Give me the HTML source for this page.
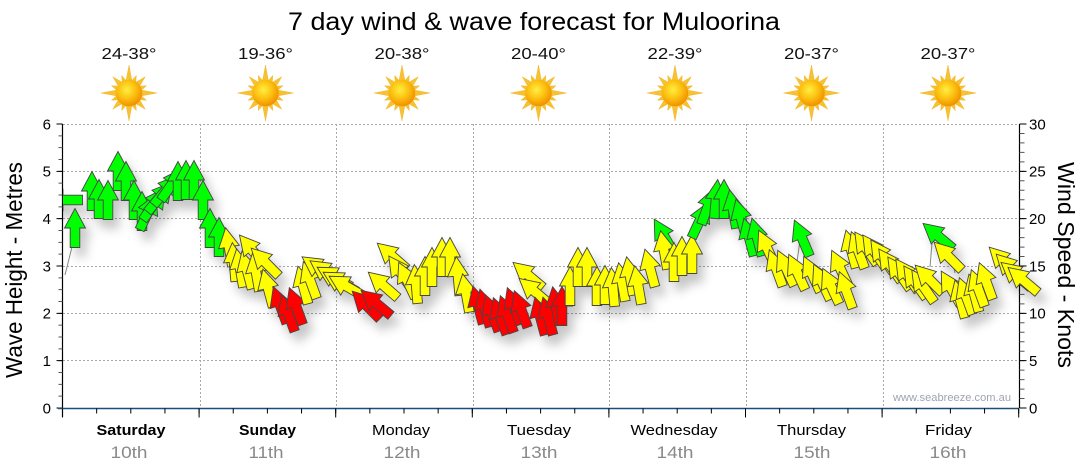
<!DOCTYPE html>
<html><head><meta charset="utf-8"><style>
html,body{margin:0;padding:0;background:#fff;width:1080px;height:475px;overflow:hidden}
svg{display:block}
text{font-family:"Liberation Sans","DejaVu Sans",sans-serif}
.g{fill:#00ff00}.y{fill:#ffff00}.r{fill:#ff0000}
</style></head><body>
<svg width="1080" height="475" viewBox="0 0 1080 475" xmlns="http://www.w3.org/2000/svg" xmlns:xlink="http://www.w3.org/1999/xlink">
<defs>
<path id="a" d="M0,-19.5 L10.5,0 L4.8,0 L4.8,19.5 L-4.8,19.5 L-4.8,0 L-10.5,0 Z" stroke="#454545" stroke-width="0.9" stroke-linejoin="miter"/>
<radialGradient id="sb" cx="0.42" cy="0.38" r="0.62">
<stop offset="0" stop-color="#ffee40"/><stop offset="0.55" stop-color="#fcc010"/><stop offset="1" stop-color="#f09200"/>
</radialGradient>
<g id="sun">
<g fill="#f6c232" stroke="#f0b020" stroke-width="0.4">
<polygon points="0,-28 3.4,-10 -3.4,-10"/>
<polygon points="0,-19 3,-10 -3,-10" transform="rotate(22.5)"/>
<polygon points="0,-23 3.4,-10 -3.4,-10" transform="rotate(45)"/>
<polygon points="0,-19 3,-10 -3,-10" transform="rotate(67.5)"/>
<polygon points="0,-28 3.4,-10 -3.4,-10" transform="rotate(90)"/>
<polygon points="0,-19 3,-10 -3,-10" transform="rotate(112.5)"/>
<polygon points="0,-23 3.4,-10 -3.4,-10" transform="rotate(135)"/>
<polygon points="0,-19 3,-10 -3,-10" transform="rotate(157.5)"/>
<polygon points="0,-28 3.4,-10 -3.4,-10" transform="rotate(180)"/>
<polygon points="0,-19 3,-10 -3,-10" transform="rotate(202.5)"/>
<polygon points="0,-23 3.4,-10 -3.4,-10" transform="rotate(225)"/>
<polygon points="0,-19 3,-10 -3,-10" transform="rotate(247.5)"/>
<polygon points="0,-28 3.4,-10 -3.4,-10" transform="rotate(270)"/>
<polygon points="0,-19 3,-10 -3,-10" transform="rotate(292.5)"/>
<polygon points="0,-23 3.4,-10 -3.4,-10" transform="rotate(315)"/>
<polygon points="0,-19 3,-10 -3,-10" transform="rotate(337.5)"/>
</g>
<circle r="13.2" fill="url(#sb)"/>
</g>
<filter id="sh" x="-10%" y="-20%" width="130%" height="150%">
<feDropShadow dx="6" dy="9" stdDeviation="5" flood-color="#000" flood-opacity="0.22"/>
</filter>
<clipPath id="pc"><rect x="63" y="100" width="1017" height="320"/></clipPath>
</defs>

<text x="534" y="30" font-size="25" text-anchor="middle" textLength="492" lengthAdjust="spacingAndGlyphs" fill="#000">7 day wind &amp; wave forecast for Muloorina</text>

<g font-size="16" text-anchor="middle" fill="#111">
<text x="129" y="59" textLength="55" lengthAdjust="spacingAndGlyphs">24-38°</text>
<text x="265.5" y="59" textLength="55" lengthAdjust="spacingAndGlyphs">19-36°</text>
<text x="402" y="59" textLength="55" lengthAdjust="spacingAndGlyphs">20-38°</text>
<text x="538.5" y="59" textLength="55" lengthAdjust="spacingAndGlyphs">20-40°</text>
<text x="675" y="59" textLength="55" lengthAdjust="spacingAndGlyphs">22-39°</text>
<text x="811.5" y="59" textLength="55" lengthAdjust="spacingAndGlyphs">20-37°</text>
<text x="948" y="59" textLength="55" lengthAdjust="spacingAndGlyphs">20-37°</text>
</g>
<use href="#sun" xlink:href="#sun" transform="translate(129,93)"/>
<use href="#sun" xlink:href="#sun" transform="translate(265.5,93)"/>
<use href="#sun" xlink:href="#sun" transform="translate(402,93)"/>
<use href="#sun" xlink:href="#sun" transform="translate(538.5,93)"/>
<use href="#sun" xlink:href="#sun" transform="translate(675,93)"/>
<use href="#sun" xlink:href="#sun" transform="translate(811.5,93)"/>
<use href="#sun" xlink:href="#sun" transform="translate(948,93)"/>

<g stroke="#a8a8a8" stroke-width="1" stroke-dasharray="2,2" fill="none">
<line x1="63" y1="124.5" x2="1019" y2="124.5"/>
<line x1="63" y1="171.5" x2="1019" y2="171.5"/>
<line x1="63" y1="218.5" x2="1019" y2="218.5"/>
<line x1="63" y1="266.5" x2="1019" y2="266.5"/>
<line x1="63" y1="313.5" x2="1019" y2="313.5"/>
<line x1="63" y1="360.5" x2="1019" y2="360.5"/>
<line x1="200.5" y1="124" x2="200.5" y2="408"/>
<line x1="336.5" y1="124" x2="336.5" y2="408"/>
<line x1="473.5" y1="124" x2="473.5" y2="408"/>
<line x1="609.5" y1="124" x2="609.5" y2="408"/>
<line x1="746.5" y1="124" x2="746.5" y2="408"/>
<line x1="883.5" y1="124" x2="883.5" y2="408"/>
</g>

<text x="893" y="401" font-size="11" fill="#a0a4b0" textLength="118" lengthAdjust="spacingAndGlyphs">www.seabreeze.com.au</text>

<g fill="none">
<line x1="62.5" y1="124" x2="62.5" y2="417" stroke="#000" stroke-width="1.2"/>
<line x1="1019.5" y1="124" x2="1019.5" y2="408" stroke="#000" stroke-width="1.2"/>
<line x1="60.5" y1="408.5" x2="60.5" y2="123" stroke="#555" stroke-width="4" stroke-dasharray="1 10.833"/>
<line x1="59.5" y1="408.5" x2="59.5" y2="123" stroke="#000" stroke-width="6" stroke-dasharray="1 46.333"/>
<line x1="1022" y1="408.5" x2="1022" y2="123" stroke="#555" stroke-width="5" stroke-dasharray="1 8.4667"/>
<line x1="1023" y1="408.5" x2="1023" y2="123" stroke="#000" stroke-width="7" stroke-dasharray="1 46.333"/>
<line x1="58" y1="408.5" x2="1019" y2="408.5" stroke="#1a4f78" stroke-width="1.5"/>
<line x1="62" y1="411" x2="1020" y2="411" stroke="#000" stroke-width="5" stroke-dasharray="1 33.15"/>
<line x1="62" y1="413" x2="1020" y2="413" stroke="#000" stroke-width="9" stroke-dasharray="1 135.6"/>
</g>

<g font-size="15" text-anchor="end" fill="#000">
<text x="51" y="129.5">6</text>
<text x="51" y="176.5">5</text>
<text x="51" y="224">4</text>
<text x="51" y="271.5">3</text>
<text x="51" y="318.5">2</text>
<text x="51" y="366">1</text>
<text x="51" y="413.5">0</text>
</g>
<g font-size="15" fill="#000">
<text x="1029" y="129.5">30</text>
<text x="1029" y="176.5">25</text>
<text x="1029" y="224">20</text>
<text x="1029" y="271.5">15</text>
<text x="1029" y="318.5">10</text>
<text x="1029" y="366">5</text>
<text x="1029" y="413.5">0</text>
</g>
<text transform="translate(22,270) rotate(-90)" font-size="23" text-anchor="middle" textLength="216" lengthAdjust="spacingAndGlyphs" fill="#000">Wave Height - Metres</text>
<text transform="translate(1058,265) rotate(90)" font-size="23" text-anchor="middle" textLength="206" lengthAdjust="spacingAndGlyphs" fill="#000">Wind Speed - Knots</text>

<g font-size="15" text-anchor="middle" fill="#000">
<text x="131" y="435" font-weight="bold" textLength="69" lengthAdjust="spacingAndGlyphs">Saturday</text>
<text x="267.5" y="435" font-weight="bold" textLength="57" lengthAdjust="spacingAndGlyphs">Sunday</text>
<text x="401" y="435" textLength="58" lengthAdjust="spacingAndGlyphs">Monday</text>
<text x="539" y="435" textLength="64" lengthAdjust="spacingAndGlyphs">Tuesday</text>
<text x="674" y="435" textLength="87" lengthAdjust="spacingAndGlyphs">Wednesday</text>
<text x="811.5" y="435" textLength="69" lengthAdjust="spacingAndGlyphs">Thursday</text>
<text x="948.5" y="435" textLength="47" lengthAdjust="spacingAndGlyphs">Friday</text>
</g>
<g font-size="17" text-anchor="middle" fill="#8a8a8a">
<text x="129" y="458" textLength="37" lengthAdjust="spacingAndGlyphs">10th</text>
<text x="266" y="458" textLength="35" lengthAdjust="spacingAndGlyphs">11th</text>
<text x="402" y="458" textLength="37" lengthAdjust="spacingAndGlyphs">12th</text>
<text x="539" y="458" textLength="37" lengthAdjust="spacingAndGlyphs">13th</text>
<text x="675" y="458" textLength="37" lengthAdjust="spacingAndGlyphs">14th</text>
<text x="812" y="458" textLength="37" lengthAdjust="spacingAndGlyphs">15th</text>
<text x="948" y="458" textLength="37" lengthAdjust="spacingAndGlyphs">16th</text>
</g>

<g stroke="#888" stroke-width="1" fill="none">
<polyline points="65,275 72,247"/>
<polyline points="932,243 930,267"/>
<polyline points="950,248 955,273"/>
<polyline points="658,245 661,258"/>
<polyline points="800,240 797,262"/>
</g>

<g clip-path="url(#pc)" filter="url(#sh)">
<use href="#a" xlink:href="#a" class="g" transform="translate(63,200) rotate(-90)"/>
<use href="#a" xlink:href="#a" class="g" transform="translate(75,228) rotate(0)"/>
<use href="#a" xlink:href="#a" class="g" transform="translate(92,191) rotate(0)"/>
<use href="#a" xlink:href="#a" class="g" transform="translate(99,199) rotate(0)"/>
<use href="#a" xlink:href="#a" class="g" transform="translate(108,200) rotate(0)"/>
<use href="#a" xlink:href="#a" class="g" transform="translate(118,171) rotate(0)"/>
<use href="#a" xlink:href="#a" class="g" transform="translate(126,181) rotate(0)"/>
<use href="#a" xlink:href="#a" class="g" transform="translate(134,200) rotate(0)"/>
<use href="#a" xlink:href="#a" class="g" transform="translate(142,211) rotate(0)"/>
<use href="#a" xlink:href="#a" class="g" transform="translate(148,212) rotate(25)"/>
<use href="#a" xlink:href="#a" class="g" transform="translate(154,204) rotate(35)"/>
<use href="#a" xlink:href="#a" class="g" transform="translate(160,197) rotate(40)"/>
<use href="#a" xlink:href="#a" class="g" transform="translate(166,190) rotate(40)"/>
<use href="#a" xlink:href="#a" class="g" transform="translate(172,184) rotate(35)"/>
<use href="#a" xlink:href="#a" class="g" transform="translate(178,181) rotate(0)"/>
<use href="#a" xlink:href="#a" class="g" transform="translate(186,180) rotate(0)"/>
<use href="#a" xlink:href="#a" class="g" transform="translate(194,180) rotate(0)"/>
<use href="#a" xlink:href="#a" class="g" transform="translate(203,200) rotate(0)"/>
<use href="#a" xlink:href="#a" class="g" transform="translate(210,228) rotate(0)"/>
<use href="#a" xlink:href="#a" class="g" transform="translate(219,237) rotate(0)"/>
<use href="#a" xlink:href="#a" class="y" transform="translate(229,247) rotate(-10)"/>
<use href="#a" xlink:href="#a" class="y" transform="translate(234,262) rotate(-5)"/>
<use href="#a" xlink:href="#a" class="y" transform="translate(240,268) rotate(-10)"/>
<use href="#a" xlink:href="#a" class="y" transform="translate(247,270) rotate(-15)"/>
<use href="#a" xlink:href="#a" class="y" transform="translate(252,250) rotate(-40)"/>
<use href="#a" xlink:href="#a" class="y" transform="translate(256,272) rotate(-10)"/>
<use href="#a" xlink:href="#a" class="y" transform="translate(265,262) rotate(-45)"/>
<use href="#a" xlink:href="#a" class="y" transform="translate(268,288) rotate(-15)"/>
<use href="#a" xlink:href="#a" class="r" transform="translate(280,305) rotate(-20)"/>
<use href="#a" xlink:href="#a" class="r" transform="translate(288,313) rotate(-20)"/>
<use href="#a" xlink:href="#a" class="r" transform="translate(296,306) rotate(-20)"/>
<use href="#a" xlink:href="#a" class="y" transform="translate(303,285) rotate(-15)"/>
<use href="#a" xlink:href="#a" class="y" transform="translate(310,280) rotate(-20)"/>
<use href="#a" xlink:href="#a" class="y" transform="translate(318,268) rotate(-55)"/>
<use href="#a" xlink:href="#a" class="y" transform="translate(326,272) rotate(-55)"/>
<use href="#a" xlink:href="#a" class="y" transform="translate(334,277) rotate(-60)"/>
<use href="#a" xlink:href="#a" class="y" transform="translate(340,282) rotate(-60)"/>
<use href="#a" xlink:href="#a" class="y" transform="translate(346,286) rotate(-60)"/>
<use href="#a" xlink:href="#a" class="r" transform="translate(366,305) rotate(-45)"/>
<use href="#a" xlink:href="#a" class="r" transform="translate(376,303) rotate(-50)"/>
<use href="#a" xlink:href="#a" class="y" transform="translate(383,285) rotate(-49)"/>
<use href="#a" xlink:href="#a" class="y" transform="translate(392,256) rotate(-49)"/>
<use href="#a" xlink:href="#a" class="y" transform="translate(400,272) rotate(-35)"/>
<use href="#a" xlink:href="#a" class="y" transform="translate(407,280) rotate(-25)"/>
<use href="#a" xlink:href="#a" class="y" transform="translate(416,284) rotate(-5)"/>
<use href="#a" xlink:href="#a" class="y" transform="translate(425,276) rotate(0)"/>
<use href="#a" xlink:href="#a" class="y" transform="translate(432,267) rotate(0)"/>
<use href="#a" xlink:href="#a" class="y" transform="translate(442,257) rotate(0)"/>
<use href="#a" xlink:href="#a" class="y" transform="translate(450,257) rotate(0)"/>
<use href="#a" xlink:href="#a" class="y" transform="translate(458,276) rotate(-5)"/>
<use href="#a" xlink:href="#a" class="y" transform="translate(466,293) rotate(-10)"/>
<use href="#a" xlink:href="#a" class="r" transform="translate(478,305) rotate(-15)"/>
<use href="#a" xlink:href="#a" class="r" transform="translate(485,308) rotate(-15)"/>
<use href="#a" xlink:href="#a" class="r" transform="translate(492,313) rotate(-20)"/>
<use href="#a" xlink:href="#a" class="r" transform="translate(500,316) rotate(-20)"/>
<use href="#a" xlink:href="#a" class="r" transform="translate(507,314) rotate(-20)"/>
<use href="#a" xlink:href="#a" class="r" transform="translate(514,306) rotate(-20)"/>
<use href="#a" xlink:href="#a" class="r" transform="translate(521,309) rotate(-20)"/>
<use href="#a" xlink:href="#a" class="y" transform="translate(528,275) rotate(-50)"/>
<use href="#a" xlink:href="#a" class="y" transform="translate(534,291) rotate(-50)"/>
<use href="#a" xlink:href="#a" class="r" transform="translate(540,316) rotate(-15)"/>
<use href="#a" xlink:href="#a" class="r" transform="translate(548,316) rotate(-15)"/>
<use href="#a" xlink:href="#a" class="r" transform="translate(556,306) rotate(-10)"/>
<use href="#a" xlink:href="#a" class="r" transform="translate(562,306) rotate(0)"/>
<use href="#a" xlink:href="#a" class="y" transform="translate(570,286) rotate(0)"/>
<use href="#a" xlink:href="#a" class="y" transform="translate(578,267) rotate(0)"/>
<use href="#a" xlink:href="#a" class="y" transform="translate(587,267) rotate(0)"/>
<use href="#a" xlink:href="#a" class="y" transform="translate(597,286) rotate(0)"/>
<use href="#a" xlink:href="#a" class="y" transform="translate(605,285) rotate(0)"/>
<use href="#a" xlink:href="#a" class="y" transform="translate(613,287) rotate(-5)"/>
<use href="#a" xlink:href="#a" class="y" transform="translate(622,282) rotate(-10)"/>
<use href="#a" xlink:href="#a" class="y" transform="translate(630,276) rotate(-10)"/>
<use href="#a" xlink:href="#a" class="y" transform="translate(638,285) rotate(-10)"/>
<use href="#a" xlink:href="#a" class="y" transform="translate(650,268) rotate(-15)"/>
<use href="#a" xlink:href="#a" class="g" transform="translate(664,236) rotate(-30)"/>
<use href="#a" xlink:href="#a" class="y" transform="translate(664,250) rotate(-10)"/>
<use href="#a" xlink:href="#a" class="y" transform="translate(674,262) rotate(0)"/>
<use href="#a" xlink:href="#a" class="y" transform="translate(682,256) rotate(0)"/>
<use href="#a" xlink:href="#a" class="y" transform="translate(692,254) rotate(0)"/>
<use href="#a" xlink:href="#a" class="g" transform="translate(700,220) rotate(25)"/>
<use href="#a" xlink:href="#a" class="g" transform="translate(708,206) rotate(20)"/>
<use href="#a" xlink:href="#a" class="g" transform="translate(716,199) rotate(5)"/>
<use href="#a" xlink:href="#a" class="g" transform="translate(724,199) rotate(0)"/>
<use href="#a" xlink:href="#a" class="g" transform="translate(733,209) rotate(-10)"/>
<use href="#a" xlink:href="#a" class="g" transform="translate(741,218) rotate(-15)"/>
<use href="#a" xlink:href="#a" class="g" transform="translate(749,237) rotate(-15)"/>
<use href="#a" xlink:href="#a" class="g" transform="translate(757,237) rotate(-15)"/>
<use href="#a" xlink:href="#a" class="y" transform="translate(767,248) rotate(-25)"/>
<use href="#a" xlink:href="#a" class="y" transform="translate(776,268) rotate(-20)"/>
<use href="#a" xlink:href="#a" class="y" transform="translate(786,268) rotate(-25)"/>
<use href="#a" xlink:href="#a" class="y" transform="translate(797,272) rotate(-25)"/>
<use href="#a" xlink:href="#a" class="g" transform="translate(802,238) rotate(-23)"/>
<use href="#a" xlink:href="#a" class="y" transform="translate(812,274) rotate(-25)"/>
<use href="#a" xlink:href="#a" class="y" transform="translate(822,282) rotate(-25)"/>
<use href="#a" xlink:href="#a" class="y" transform="translate(831,286) rotate(-25)"/>
<use href="#a" xlink:href="#a" class="y" transform="translate(840,268) rotate(-25)"/>
<use href="#a" xlink:href="#a" class="y" transform="translate(846,290) rotate(-20)"/>
<use href="#a" xlink:href="#a" class="y" transform="translate(851,249) rotate(-15)"/>
<use href="#a" xlink:href="#a" class="y" transform="translate(858,250) rotate(-20)"/>
<use href="#a" xlink:href="#a" class="y" transform="translate(866,248) rotate(-35)"/>
<use href="#a" xlink:href="#a" class="y" transform="translate(874,251) rotate(-35)"/>
<use href="#a" xlink:href="#a" class="y" transform="translate(882,256) rotate(-35)"/>
<use href="#a" xlink:href="#a" class="y" transform="translate(890,265) rotate(-35)"/>
<use href="#a" xlink:href="#a" class="y" transform="translate(899,273) rotate(-35)"/>
<use href="#a" xlink:href="#a" class="y" transform="translate(907,275) rotate(-35)"/>
<use href="#a" xlink:href="#a" class="y" transform="translate(915,282) rotate(-35)"/>
<use href="#a" xlink:href="#a" class="y" transform="translate(923,286) rotate(-35)"/>
<use href="#a" xlink:href="#a" class="y" transform="translate(929,279) rotate(-45)"/>
<use href="#a" xlink:href="#a" class="g" transform="translate(938,236) rotate(-50)"/>
<use href="#a" xlink:href="#a" class="y" transform="translate(948,256) rotate(-45)"/>
<use href="#a" xlink:href="#a" class="y" transform="translate(951,288) rotate(-30)"/>
<use href="#a" xlink:href="#a" class="y" transform="translate(960,299) rotate(-15)"/>
<use href="#a" xlink:href="#a" class="y" transform="translate(966,296) rotate(-20)"/>
<use href="#a" xlink:href="#a" class="y" transform="translate(974,293) rotate(-15)"/>
<use href="#a" xlink:href="#a" class="y" transform="translate(978,288) rotate(-20)"/>
<use href="#a" xlink:href="#a" class="y" transform="translate(986,281) rotate(-20)"/>
<use href="#a" xlink:href="#a" class="y" transform="translate(1003,261) rotate(-45)"/>
<use href="#a" xlink:href="#a" class="y" transform="translate(1010,268) rotate(-45)"/>
<use href="#a" xlink:href="#a" class="y" transform="translate(1016,275) rotate(-50)"/>
<use href="#a" xlink:href="#a" class="y" transform="translate(1023,280) rotate(-50)"/>
</g>
</svg>
</body></html>
